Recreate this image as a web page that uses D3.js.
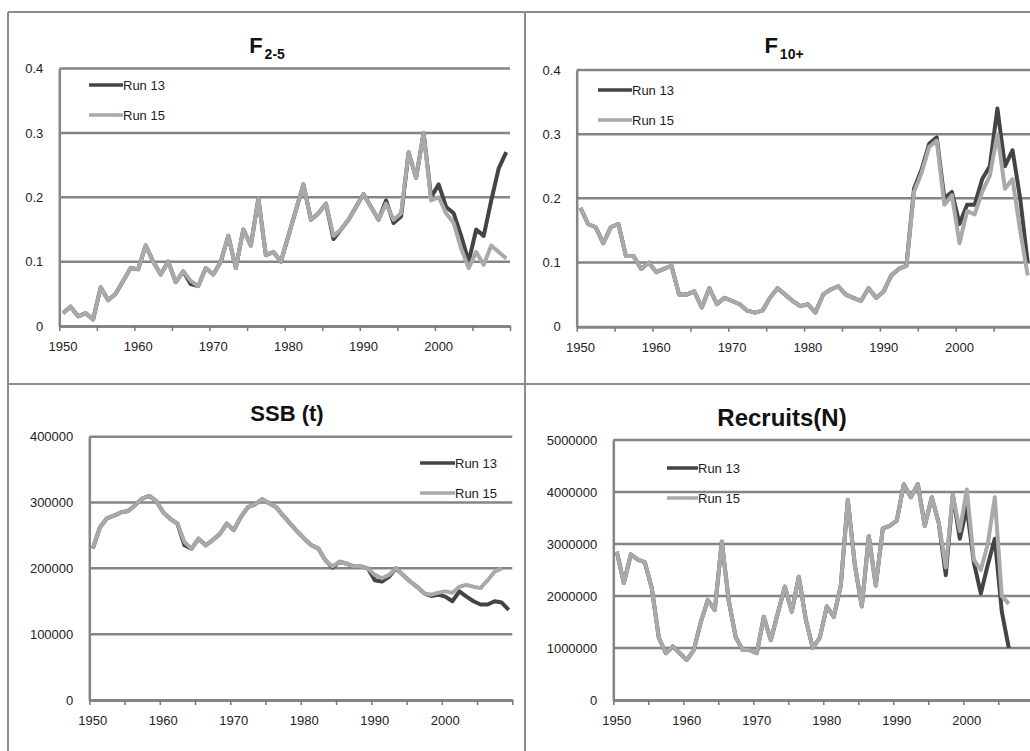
<!DOCTYPE html>
<html><head><meta charset="utf-8">
<script src="https://cdn.jsdelivr.net/npm/d3@7"></script>
<style>
body{margin:0;background:#fff}
svg{display:block}
text{font-family:"Liberation Sans",Arial,sans-serif}
</style>
</head><body>
<svg id="c" width="1030" height="751"></svg>
<script>
// ---------- data ----------
const seriesNames = ["Run 13", "Run 15"];
const fYears = d3.range(1950, 2010);
const f25Run13 = [0.02,0.03,0.015,0.02,0.01,0.06,0.04,0.05,0.07,0.09,
  0.088,0.125,0.10,0.08,0.10,0.068,0.085,0.065,0.062,0.09,
  0.08,0.10,0.14,0.09,0.15,0.125,0.198,0.11,0.115,0.10,
  0.14,0.18,0.22,0.165,0.175,0.19,0.135,0.15,0.165,0.185,
  0.205,0.185,0.165,0.195,0.16,0.17,0.27,0.23,0.30,0.20,
  0.22,0.185,0.175,0.14,0.10,0.15,0.14,0.195,0.245,0.27];
const f25Run15 = [0.02,0.03,0.015,0.02,0.01,0.06,0.04,0.05,0.07,0.09,
  0.088,0.125,0.10,0.08,0.10,0.068,0.085,0.07,0.062,0.09,
  0.08,0.10,0.14,0.09,0.15,0.125,0.198,0.11,0.115,0.10,
  0.14,0.18,0.22,0.165,0.175,0.19,0.14,0.15,0.165,0.185,
  0.205,0.185,0.165,0.19,0.165,0.175,0.27,0.23,0.30,0.195,
  0.20,0.175,0.16,0.12,0.09,0.115,0.095,0.125,0.115,0.105];
const f10Run13 = [0.185,0.16,0.155,0.13,0.155,0.16,0.11,0.11,0.09,0.10,
  0.085,0.09,0.095,0.05,0.05,0.055,0.03,0.06,0.035,0.045,
  0.04,0.035,0.025,0.022,0.025,0.045,0.06,0.05,0.04,0.032,
  0.035,0.022,0.05,0.058,0.063,0.05,0.045,0.04,0.06,0.045,
  0.055,0.08,0.09,0.095,0.215,0.245,0.285,0.295,0.20,0.21,
  0.16,0.19,0.19,0.23,0.25,0.34,0.25,0.275,0.20,0.10];
const f10Run15 = [0.185,0.16,0.155,0.13,0.155,0.16,0.11,0.11,0.09,0.10,
  0.085,0.09,0.095,0.05,0.05,0.055,0.03,0.06,0.035,0.045,
  0.04,0.035,0.025,0.022,0.025,0.045,0.06,0.05,0.04,0.032,
  0.035,0.022,0.05,0.058,0.063,0.05,0.045,0.04,0.06,0.045,
  0.055,0.08,0.09,0.095,0.21,0.24,0.28,0.29,0.19,0.205,
  0.13,0.18,0.175,0.21,0.235,0.30,0.215,0.23,0.15,0.08];
const ssbYears13 = d3.range(1950, 2010);
const ssbYears15 = d3.range(1950, 2009);
const ssbRun13 = [230000,262000,276000,280000,285000,287000,296000,306000,310000,302000,
  285000,275000,268000,235000,230000,245000,235000,243000,252000,268000,
  258000,278000,293000,297000,305000,299000,293000,280000,268000,256000,
  245000,235000,230000,212000,201000,210000,207000,203000,203000,200000,
  182000,180000,187000,200000,190000,180000,172000,162000,158000,160000,
  157000,150000,165000,157000,150000,145000,145000,150000,148000,137000];
const ssbRun15 = [230000,262000,276000,280000,285000,287000,296000,306000,310000,302000,
  285000,275000,268000,240000,230000,245000,235000,243000,252000,268000,
  258000,278000,293000,297000,305000,299000,293000,280000,268000,256000,
  245000,235000,230000,212000,203000,210000,207000,203000,203000,200000,
  190000,185000,190000,200000,190000,180000,172000,162000,160000,163000,
  165000,163000,172000,175000,172000,170000,182000,195000,200000];
const recYears = d3.range(1950, 2007);
const recRun13 = [2850000,2250000,2800000,2700000,2650000,2150000,1200000,900000,1030000,900000,
  770000,960000,1500000,1920000,1730000,3050000,1900000,1200000,960000,960000,
  900000,1600000,1150000,1670000,2180000,1700000,2370000,1550000,1000000,1200000,
  1800000,1600000,2200000,3850000,2600000,1800000,3150000,2200000,3300000,3350000,
  3450000,4150000,3900000,4150000,3350000,3900000,3400000,2400000,3950000,3100000,
  3700000,2650000,2050000,2600000,3100000,1700000,1000000];
const recRun15 = [2850000,2250000,2800000,2700000,2650000,2150000,1200000,900000,1030000,900000,
  770000,960000,1500000,1920000,1730000,3050000,1900000,1200000,960000,960000,
  900000,1600000,1150000,1670000,2180000,1700000,2370000,1550000,1000000,1200000,
  1800000,1600000,2200000,3850000,2600000,1800000,3150000,2200000,3300000,3350000,
  3450000,4150000,3900000,4150000,3350000,3900000,3400000,2550000,3950000,3250000,
  4050000,2700000,2500000,3000000,3900000,2000000,1850000];
const xTickYears = d3.range(1950, 2011, 5);
const xLabelYears = [1950, 1960, 1970, 1980, 1990, 2000];
const fTicks = [0, 0.1, 0.2, 0.3, 0.4];
const ssbTicks = [0, 100000, 200000, 300000, 400000];
const recTicks = [0, 1000000, 2000000, 3000000, 4000000, 5000000];

// ---------- drawing ----------
const svg = d3.select("#c");
const colors = ["#444444", "#a9a9a9"];
const gridCol = "#858585";

// panel frame
const frame = svg.append("g").attr("stroke", "#8c8c8c").attr("stroke-width", 2);
frame.append("line").attr("x1", 8).attr("x2", 1030).attr("y1", 12).attr("y2", 12);
frame.append("line").attr("x1", 8).attr("x2", 1030).attr("y1", 384).attr("y2", 384);
frame.append("line").attr("x1", 8).attr("x2", 8).attr("y1", 12).attr("y2", 751);
frame.append("line").attr("x1", 525).attr("x2", 525).attr("y1", 12).attr("y2", 751);

const panels = [
  {x0: 59.3, x1: 510, yB: 326, yT: 68.5, max: 0.4, ticks: fTicks, fmt: d3.format(".1~f"),
   series: [[fYears, f25Run13], [fYears, f25Run15]],
   title: ["F", "2-5"], tx: 267, ty: 53, leg: {x: 89, y: 85, len: 34}},
  {x0: 576.7, x1: 1031.5, yB: 326.7, yT: 70, max: 0.4, ticks: fTicks, fmt: d3.format(".1~f"),
   series: [[fYears, f10Run13], [fYears, f10Run15]],
   title: ["F", "10+"], tx: 784, ty: 53, leg: {x: 598, y: 90, len: 34}},
  {x0: 89.3, x1: 512.3, yB: 700, yT: 436.7, max: 400000, ticks: ssbTicks, fmt: d => String(d),
   series: [[ssbYears13, ssbRun13], [ssbYears15, ssbRun15]],
   title: ["SSB (t)"], tx: 287, ty: 421, fs: 22, leg: {x: 420, y: 463, len: 35}},
  {x0: 613.3, x1: 1033.3, yB: 700, yT: 440, max: 5000000, ticks: recTicks, fmt: d => String(d),
   series: [[recYears, recRun13], [recYears, recRun15]],
   title: ["Recruits(N)"], tx: 782, ty: 426, fs: 24, leg: {x: 667, y: 468, len: 31}}
];

panels.forEach(p => {
  const g = svg.append("g");
  const x = d3.scaleLinear().domain([1950, 2010]).range([p.x0, p.x1]);
  const y = d3.scaleLinear().domain([0, p.max]).range([p.yB, p.yT]);

  // gridlines
  g.append("g").selectAll("line").data(p.ticks.filter(t => t > 0)).join("line")
    .attr("x1", p.x0).attr("x2", p.x1)
    .attr("y1", d => y(d)).attr("y2", d => y(d))
    .attr("stroke", gridCol).attr("stroke-width", 2.5);

  // y axis
  const ya = g.append("g").attr("transform", `translate(${p.x0},0)`)
    .call(d3.axisLeft(y).tickValues(p.ticks).tickSize(0).tickPadding(16).tickFormat(p.fmt));
  ya.select(".domain").attr("stroke", gridCol).attr("stroke-width", 2.5);
  ya.selectAll("text").attr("font-size", 13).attr("fill", "#222")
    .attr("font-family", "'Liberation Sans', Arial, sans-serif");

  // x axis
  const xa = g.append("g").attr("transform", `translate(0,${p.yB})`)
    .call(d3.axisBottom(x).tickValues(xTickYears).tickFormat("").tickSizeInner(5).tickSizeOuter(0));
  xa.select(".domain").attr("stroke", gridCol).attr("stroke-width", 3);
  xa.selectAll(".tick line").attr("stroke", "#777").attr("stroke-width", 1.5);
  g.append("g").selectAll("text").data(xLabelYears).join("text")
    .attr("x", d => x(d + 0.5)).attr("y", p.yB + 25)
    .attr("text-anchor", "middle").attr("font-size", 13).attr("fill", "#222")
    .text(d => d);

  // lines
  const line = d3.line().x(d => x(d[0] + 0.5)).y(d => y(d[1]));
  p.series.forEach((s, i) => {
    const pts = s[0].map((yr, k) => [yr, s[1][k]]);
    g.append("path").datum(pts).attr("d", line)
      .attr("fill", "none").attr("stroke", colors[i]).attr("stroke-width", 4)
      .attr("stroke-linejoin", "round");
  });

  // legend
  seriesNames.forEach((n, i) => {
    const ly = p.leg.y + i * 30;
    g.append("line").attr("x1", p.leg.x).attr("x2", p.leg.x + p.leg.len)
      .attr("y1", ly).attr("y2", ly).attr("stroke", colors[i]).attr("stroke-width", 3.5);
    g.append("text").attr("x", p.leg.x + p.leg.len).attr("y", ly + 5)
      .attr("font-size", 13).attr("fill", "#222").text(n);
  });

  // title
  const t = g.append("text").attr("x", p.tx).attr("y", p.ty).attr("text-anchor", "middle")
    .attr("font-weight", "bold").attr("fill", "#111");
  if (p.title.length === 2) {
    t.append("tspan").attr("font-size", 22).text(p.title[0]);
    t.append("tspan").attr("font-size", 14).attr("dy", 6).attr("dx", 2).text(p.title[1]);
  } else {
    t.attr("font-size", p.fs).text(p.title[0]);
  }
});
</script>
</body></html>
